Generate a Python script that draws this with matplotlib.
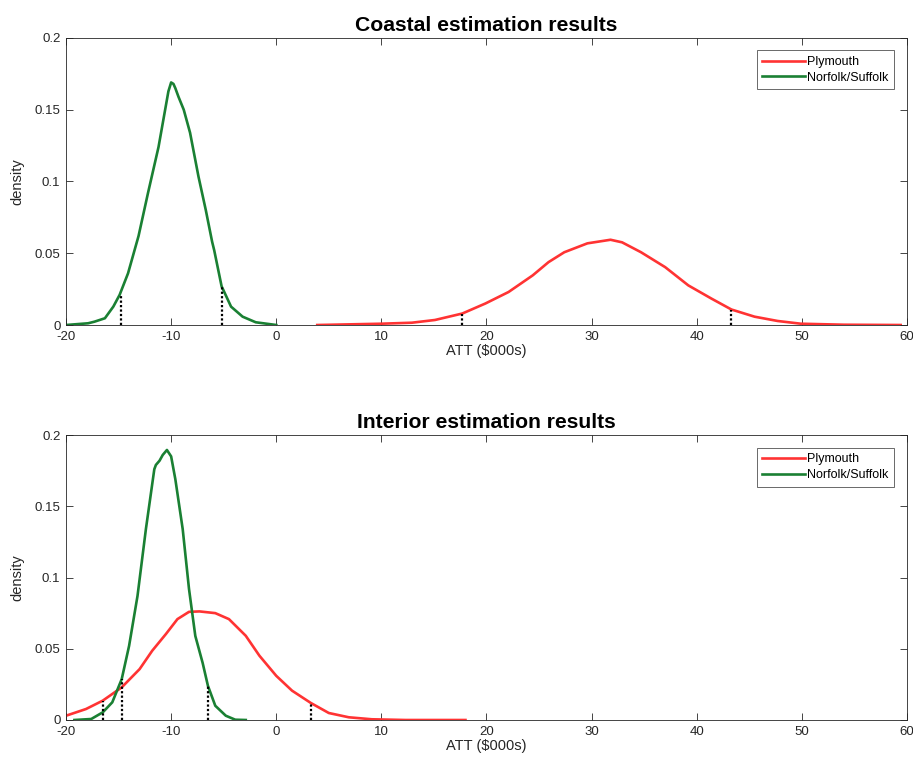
import matplotlib
matplotlib.use("Agg")
import matplotlib.pyplot as plt

plt.rcParams['font.family'] = ['Liberation Sans', 'DejaVu Sans']

# ---- Coastal data ----
coast_ns_x = [-20, -17.9, -17.3, -16.3, -15.5, -14.9, -14.1, -13.1, -12.2, -11.2, -10.4, -10.26, -10.0,
              -9.78, -9.6, -9.3, -8.8, -8.2, -7.4, -6.7, -6.1, -5.9, -5.2, -4.3, -3.2, -1.95, 0.0]
coast_ns_y = [0.0, 0.0012, 0.0023, 0.0047, 0.0128, 0.021, 0.036, 0.062, 0.092, 0.124, 0.157, 0.1628, 0.169,
              0.168, 0.165, 0.159, 0.150, 0.134, 0.1035, 0.080, 0.058, 0.052, 0.027, 0.0128, 0.0058, 0.0019, 0.0]
coast_pl_x = [3.9, 10.0, 12.9, 15.1, 17.7, 19.9, 22.1, 24.4, 25.9, 27.4, 29.6, 31.8, 32.9, 34.7, 37.0,
              39.2, 41.4, 43.3, 45.5, 47.7, 49.9, 54.0, 59.4]
coast_pl_y = [0.0, 0.0009, 0.0016, 0.0035, 0.008, 0.015, 0.023, 0.0346, 0.0438, 0.0507, 0.0569, 0.0594,
              0.0576, 0.0507, 0.0403, 0.0276, 0.0184, 0.0108, 0.0058, 0.0028, 0.0009, 0.0002, 0.0]
coast_ns_ci = [(-14.8, 0.021), (-5.2, 0.027)]
coast_pl_ci = [(17.7, 0.008), (43.3, 0.0108)]

# ---- Interior data ----
int_ns_x = [-19.2, -17.6, -16.5, -15.6, -14.7, -14.0, -13.2, -12.4, -11.6, -11.45, -11.1, -10.8, -10.4,
            -10.0, -9.9, -9.6, -8.9, -8.3, -7.7, -7.0, -6.5, -5.8, -4.8, -3.9, -2.9]
int_ns_y = [0.0, 0.0007, 0.0054, 0.0124, 0.0287, 0.052, 0.087, 0.134, 0.176, 0.179, 0.182, 0.186, 0.1895,
            0.185, 0.181, 0.169, 0.134, 0.092, 0.059, 0.040, 0.024, 0.010, 0.003, 0.0002, 0.0]
int_pl_x = [-20.5, -20.0, -18.1, -16.5, -14.7, -13.0, -11.8, -10.5, -9.4, -8.3, -7.3, -5.8, -4.5, -2.9,
            -1.6, 0.0, 1.5, 3.3, 5.0, 6.9, 9.1, 12.3, 18.0]
int_pl_y = [0.0025, 0.003, 0.0077, 0.0136, 0.0229, 0.0357, 0.0486, 0.0603, 0.0708, 0.0759, 0.0762, 0.075,
            0.0708, 0.0591, 0.0451, 0.031, 0.0206, 0.0119, 0.0049, 0.0019, 0.0005, 0.0, 0.0]
int_ns_ci = [(-14.7, 0.0287), (-6.5, 0.024)]
int_pl_ci = [(-16.5, 0.0136), (3.3, 0.0119)]

titles = ["Coastal estimation results", "Interior estimation results"]
xticks = [-20, -10, 0, 10, 20, 30, 40, 50, 60]
yticks = [0, 0.05, 0.1, 0.15, 0.2]
yticklabels = ["0", "0.05", "0.1", "0.15", "0.2"]
labels = ["Plymouth", "Norfolk/Suffolk"]

RED = (1.0, 0.2, 0.2)
GREEN = (0.1, 0.5, 0.2)
AXC = (0.15, 0.15, 0.15)

fig = plt.figure(figsize=(9.13, 7.64), dpi=100)
ax1 = fig.add_axes([0.0723, 0.5746, 0.9211, 0.3757])
ax2 = fig.add_axes([0.0723, 0.0576, 0.9211, 0.3730])

panels = [
    (ax1, coast_pl_x, coast_pl_y, coast_ns_x, coast_ns_y, coast_pl_ci, coast_ns_ci, titles[0]),
    (ax2, int_pl_x, int_pl_y, int_ns_x, int_ns_y, int_pl_ci, int_ns_ci, titles[1]),
]

for ax, px, py, nx, ny, pci, nci, title in panels:
    ax.plot(px, py, color=RED, lw=1.9, label=labels[0], solid_joinstyle='round')
    ax.plot(nx, ny, color=GREEN, lw=1.9, label=labels[1], solid_joinstyle='round')
    for (cx, cy) in pci + nci:
        ax.plot([cx, cx], [0, cy], color='black', lw=1.6, linestyle=(0, (1, 1)))
    ax.set_xlim(-20, 60)
    ax.set_ylim(0, 0.2)
    ax.set_xticks(xticks)
    ax.set_xticklabels([str(t) for t in xticks])
    ax.set_yticks(yticks)
    ax.set_yticklabels(yticklabels)
    ax.tick_params(direction='in', top=True, right=True, length=5, width=0.6,
                   labelsize=9.5, colors=AXC, pad=4)
    for s in ax.spines.values():
        s.set_color(AXC)
        s.set_linewidth(0.6)
    ax.set_xlabel("ATT (\\$000s)", fontsize=10.5, color=AXC, labelpad=1)
    ax.set_ylabel("density", fontsize=10.5, color=AXC, labelpad=7)
    ax.set_title(title, fontsize=15.2, fontweight='bold', pad=5)
    leg = ax.legend(loc='upper right', fontsize=9.0, frameon=True, fancybox=False,
                    edgecolor=AXC, handlelength=3.4, borderpad=0.45, labelspacing=0.3,
                    handletextpad=0.2, borderaxespad=1.0)
    leg.get_frame().set_linewidth(0.6)

fig.savefig("out.png", dpi=100)
